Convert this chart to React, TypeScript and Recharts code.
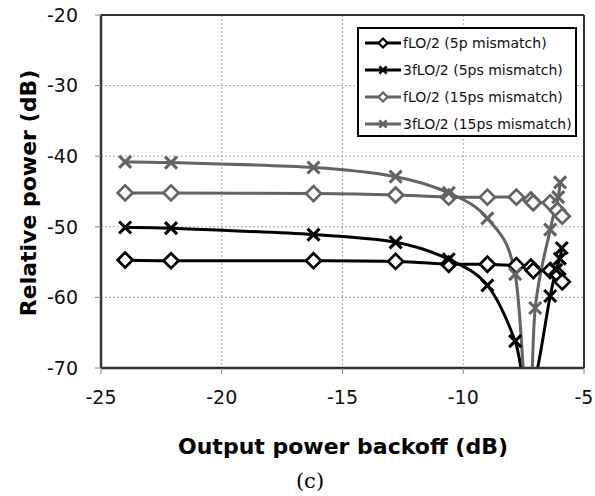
import React from "react";
import {
  CartesianGrid,
  Legend,
  Line,
  LineChart,
  ReferenceLine,
  XAxis,
  YAxis,
} from "recharts";

// backoff values (dB) for each series
const xFund = [-24.0, -22.1, -16.2, -12.8, -10.6, -9.0, -7.8, -7.2, -7.1, -6.4, -6.1, -5.9];
const xIm3Black = [-24.0, -22.1, -16.2, -12.8, -10.6, -9.0, -7.85, -7.25, -6.4, -6.15, -6.0, -5.92];
const xIm3Gray = [-24.0, -22.1, -16.2, -12.8, -10.6, -9.0, -7.85, -7.3, -7.02, -6.4, -6.07, -5.99];

// relative power (dB)
const fund5ps = [-54.7, -54.8, -54.8, -54.9, -55.3, -55.3, -55.5, -55.7, -56.2, -56.2, -56.7, -57.8];
const im3_5ps = [-50.1, -50.2, -51.1, -52.2, -54.6, -58.3, -66.2, -74.5, -59.8, -56.1, -54.5, -53.0];
const fund15ps = [-45.2, -45.2, -45.3, -45.5, -45.8, -45.8, -45.8, -46.2, -46.6, -46.6, -47.7, -48.5];
const im3_15ps = [-40.8, -40.9, -41.6, -42.9, -45.2, -48.8, -56.7, -80.0, -61.5, -50.4, -45.8, -43.7];

const xTicks = [-25, -20, -15, -10, -5];
const yTicks = [-70, -60, -50, -40, -30, -20];

const BLACK = "#000000";
const GRAY = "#636363";
const FONT = "DejaVu Sans";

const zip = (xs: number[], ys: number[]) => xs.map((x, i) => ({ x, y: ys[i] }));

const series = [
  { name: "fLO/2 (5p mismatch)", data: zip(xFund, fund5ps), color: BLACK, shape: "diamond" },
  { name: "3fLO/2 (5ps mismatch)", data: zip(xIm3Black, im3_5ps), color: BLACK, shape: "cross" },
  { name: "fLO/2 (15ps mismatch)", data: zip(xFund, fund15ps), color: GRAY, shape: "diamond" },
  { name: "3fLO/2 (15ps mismatch)", data: zip(xIm3Gray, im3_15ps), color: GRAY, shape: "cross" },
];

// smooth line like the spreadsheet one (catmull-rom through the points)
const smoothCurve = (context: any) => {
  let pts: number[][] = [];
  return {
    areaStart() {},
    areaEnd() {},
    lineStart() {
      pts = [];
    },
    point(x: number, y: number) {
      pts.push([x, y]);
    },
    lineEnd() {
      const n = pts.length;
      if (!n) return;
      context.moveTo(pts[0][0], pts[0][1]);
      for (let i = 0; i < n - 1; i++) {
        const p0 = pts[Math.max(i - 1, 0)];
        const p1 = pts[i];
        const p2 = pts[i + 1];
        const p3 = pts[Math.min(i + 2, n - 1)];
        context.bezierCurveTo(
          p1[0] + (p2[0] - p0[0]) / 6,
          p1[1] + (p2[1] - p0[1]) / 6,
          p2[0] - (p3[0] - p1[0]) / 6,
          p2[1] - (p3[1] - p1[1]) / 6,
          p2[0],
          p2[1]
        );
      }
    },
  };
};

function Marker({ cx, cy, shape, color, r, w }: any) {
  if (shape === "diamond") {
    return (
      <path
        d={`M${cx},${cy - r}L${cx + r},${cy}L${cx},${cy + r}L${cx - r},${cy}Z`}
        fill="#fff"
        stroke={color}
        strokeWidth={w}
      />
    );
  }
  const s = r * 0.8;
  return (
    <path
      d={`M${cx - s},${cy - s}L${cx + s},${cy + s}M${cx - s},${cy + s}L${cx + s},${cy - s}`}
      stroke={color}
      strokeWidth={w + 0.4}
      fill="none"
    />
  );
}

const makeDot = (shape: string, color: string) => (props: any) => {
  const { cx, cy, index } = props;
  if (cx == null || cy == null) return <g key={index} />;
  return (
    <g key={index}>
      <Marker cx={cx} cy={cy} shape={shape} color={color} r={7.5} w={2.7} />
    </g>
  );
};

const renderLegend = () => (
  <div
    style={{
      width: 220,
      height: 110,
      boxSizing: "border-box",
      border: "2px solid #000",
      background: "#fff",
      paddingLeft: 6,
      fontFamily: FONT,
      fontSize: 14,
      color: "#111",
    }}
  >
    {series.map((s) => (
      <div key={s.name} style={{ height: 27, display: "flex", alignItems: "center", whiteSpace: "nowrap" }}>
        <svg width={36} height={14} style={{ marginRight: 2, flex: "none" }}>
          <line x1={0} y1={7} x2={36} y2={7} stroke={s.color} strokeWidth={3} />
          <Marker cx={18} cy={7} shape={s.shape} color={s.color} r={4.5} w={2.2} />
        </svg>
        <span>{s.name}</span>
      </div>
    ))}
  </div>
);

export default function App() {
  return (
    <div style={{ position: "absolute", left: 0, top: 0, width: 595, height: 496, background: "#fff" }}>
      <LineChart width={595} height={496} margin={{ top: 15, right: 11, bottom: 0, left: 0 }}>
        <CartesianGrid stroke="#a8a8a8" strokeDasharray="2 2" />
        <XAxis
          type="number"
          dataKey="x"
          domain={[-25, -5]}
          ticks={xTicks}
          interval={0}
          allowDataOverflow
          height={128}
          tickSize={6}
          tickMargin={17}
          axisLine={{ stroke: "#333", strokeWidth: 2.5 }}
          tickLine={{ stroke: "#888" }}
          tick={{ fill: "#111", fontSize: 19, fontFamily: FONT }}
        />
        <YAxis
          type="number"
          domain={[-70, -20]}
          ticks={yTicks}
          interval={0}
          allowDataOverflow
          width={101}
          tickSize={6}
          tickMargin={17}
          axisLine={{ stroke: "#333", strokeWidth: 2.5 }}
          tickLine={{ stroke: "#888" }}
          tick={{ fill: "#111", fontSize: 19, fontFamily: FONT }}
        />
        <ReferenceLine y={-20} stroke="#333" strokeWidth={2} />
        <ReferenceLine x={-5} stroke="#333" strokeWidth={2} />
        <Legend
          layout="horizontal"
          align="center"
          verticalAlign="middle"
          content={renderLegend}
          wrapperStyle={{ left: 357, top: 27, width: 220, height: 110 }}
        />
        {series.map((s) => (
          <Line
            key={s.name}
            name={s.name}
            data={s.data}
            dataKey="y"
            type={smoothCurve as any}
            stroke={s.color}
            strokeWidth={3}
            dot={makeDot(s.shape, s.color)}
            activeDot={false}
            isAnimationActive={false}
          />
        ))}
      </LineChart>
      <div
        style={{
          position: "absolute",
          left: 28,
          top: 193,
          transform: "translate(-50%, -50%) rotate(-90deg)",
          whiteSpace: "nowrap",
          fontFamily: FONT,
          fontWeight: 700,
          fontSize: 22,
          color: "#000",
        }}
      >
        Relative power (dB)
      </div>
      <div
        style={{
          position: "absolute",
          left: 343,
          top: 446,
          transform: "translate(-50%, -50%)",
          whiteSpace: "nowrap",
          fontFamily: FONT,
          fontWeight: 700,
          fontSize: 22,
          color: "#000",
        }}
      >
        Output power backoff (dB)
      </div>
      <div
        style={{
          position: "absolute",
          left: 310,
          top: 481,
          transform: "translate(-50%, -50%)",
          whiteSpace: "nowrap",
          fontFamily: "DejaVu Serif",
          fontSize: 21,
          color: "#000",
        }}
      >
        (c)
      </div>
    </div>
  );
}
